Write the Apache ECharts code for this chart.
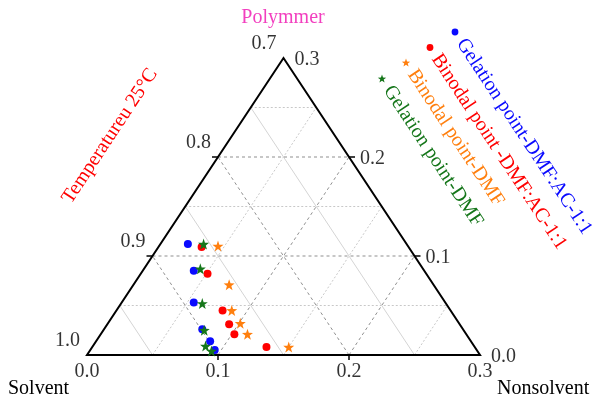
<!DOCTYPE html>
<html>
<head>
<meta charset="utf-8">
<script src="https://cdn.jsdelivr.net/npm/echarts@6/dist/echarts.min.js"></script>
<style>
  html, body { margin: 0; background: #fff; }
  #chart { width: 592px; height: 401px; }
</style>
</head>
<body>
<div id="chart"></div>
<script>
// edge tick values (zoomed ternary: solvent 0.7-1.0, nonsolvent 0-0.3, polymer 0-0.3)
const solventTicks = [1.0, 0.9, 0.8, 0.7];
const nonsolventTicks = [0.0, 0.1, 0.2, 0.3];
const polymerTicks = [0.0, 0.1, 0.2, 0.3];
const majorLines = [0.1, 0.2];
const minorLines = [0.05, 0.15, 0.25];

// nonsolvent (N) and polymer (P) fractions, solvent = 1 - N - P
const gelAcN = [0.021, 0.039, 0.055, 0.075, 0.087, 0.095];
const gelAcP = [0.112, 0.085, 0.053, 0.026, 0.014, 0.005];
const binAcN = [0.033, 0.051, 0.081, 0.093, 0.102, 0.133];
const binAcP = [0.109, 0.082, 0.045, 0.031, 0.021, 0.008];
const binDmfN = [0.045, 0.073, 0.088, 0.101, 0.112, 0.150];
const binDmfP = [0.110, 0.071, 0.045, 0.032, 0.021, 0.008];
const gelDmfN = [0.033, 0.043, 0.062, 0.077, 0.086, 0.093];
const gelDmfP = [0.112, 0.087, 0.052, 0.025, 0.009, 0.004];

const names = [
  "Gelation point-DMF:AC-1:1",
  "Binodal point -DMF:AC-1:1",
  "Binodal point-DMF",
  "Gelation point-DMF",
];
const colors = ["#0a0aff", "#ff0000", "#ff7f0e", "#15761a"];

const FONT = '"Liberation Serif", "Times New Roman", serif';
const STAR = "path://M0,-10L2.35,-3.24L9.51,-3.09L3.8,1.24L5.88,8.09L0,4L-5.88,8.09L-3.8,1.24L-9.51,-3.09L-2.35,-3.24Z";

// ternary (N, P) -> cartesian (x, y) in the grid's value axes
function toXY(n, p) {
  return [n + p / 2, p];
}
function pts(ns, ps) {
  return ns.map((n, i) => toXY(n, ps[i]));
}

function segs(vals, kind) {
  return vals.map((v) => {
    let a, b;
    if (kind === "p") { a = toXY(0, v); b = toXY(0.3 - v, v); }
    else if (kind === "n") { a = toXY(v, 0); b = toXY(v, 0.3 - v); }
    else { a = toXY(v, 0); b = toXY(0, v); }
    return [a[0], a[1], b[0], b[1]];
  });
}

function segSeries(data, style) {
  return {
    type: "custom",
    silent: true,
    data: data,
    encode: { x: [0, 2], y: [1, 3] },
    renderItem: function (params, api) {
      const a = api.coord([api.value(0), api.value(1)]);
      const b = api.coord([api.value(2), api.value(3)]);
      return {
        type: "line",
        shape: { x1: a[0], y1: a[1], x2: b[0], y2: b[1] },
        style: style,
      };
    },
  };
}

const majorStyle = { stroke: "#8f8f8f", lineWidth: 1, lineDash: [3, 3] };
const minorDot = { stroke: "#c8c8c8", lineWidth: 1, lineDash: [2, 2] };
const minorSolid = { stroke: "#d4d4d4", lineWidth: 1 };

// ticks: start point + pixel direction
const tickData = [];
solventTicks.slice(1, 3).forEach((s) => {
  const q = toXY(0, 1 - s);
  tickData.push([q[0], q[1], -6, 0]);
});
polymerTicks.slice(1, 3).forEach((p) => {
  const q = toXY(0.3 - p, p);
  tickData.push([q[0], q[1], 6, 0]);
});
nonsolventTicks.slice(1, 3).forEach((n) => {
  const q = toXY(n, 0);
  tickData.push([q[0], q[1], 0, 5]);
});

function labelSeries(data, pos, dist, offset) {
  return {
    type: "scatter",
    silent: true,
    symbolSize: 0,
    data: data,
    label: {
      show: true,
      position: pos,
      distance: dist,
      offset: offset,
      formatter: (p) => p.value[2].toFixed(1),
      fontFamily: FONT,
      fontSize: 20,
      color: "#000",
    },
  };
}

const leftLabels = solventTicks.map((s) => toXY(0, 1 - s).concat([s]));
const rightLabels = polymerTicks.map((p) => toXY(0.3 - p, p).concat([p]));
const bottomLabels = nonsolventTicks.map((n) => toXY(n, 0).concat([n]));

function starPoints(cx, cy, R, r) {
  const out = [];
  for (let i = 0; i < 10; i++) {
    const a = -Math.PI / 2 + (i * Math.PI) / 5;
    const rad = i % 2 === 0 ? R : r;
    out.push([cx + rad * Math.cos(a), cy + rad * Math.sin(a)]);
  }
  return out;
}

// rotated legend along the right edge
const ang = Math.atan2(297, 196.5);
const dir = [Math.cos(ang), Math.sin(ang)];
const legendPos = [[455, 32], [430, 47.5], [406, 63], [382, 79]];
const legendGraphic = [];
legendPos.forEach((m, i) => {
  if (i < 2) {
    legendGraphic.push({ type: "circle", shape: { cx: m[0], cy: m[1], r: 3.4 }, style: { fill: colors[i] } });
  } else {
    legendGraphic.push({ type: "polygon", shape: { points: starPoints(m[0], m[1], 4.4, 1.8) }, style: { fill: colors[i] } });
  }
  legendGraphic.push({
    type: "text",
    x: m[0] + 10 * dir[0],
    y: m[1] + 10 * dir[1],
    rotation: -ang,
    style: { text: names[i], fill: colors[i], font: "20px " + FONT, align: "left", verticalAlign: "middle" },
  });
});

const chart = echarts.init(document.getElementById("chart"));
chart.setOption({
  animation: false,
  grid: { left: 87, top: 58, width: 393, height: 297 },
  xAxis: { type: "value", min: 0, max: 0.3, show: false },
  yAxis: { type: "value", min: 0, max: 0.3, show: false },
  graphic: [
    { type: "text", x: 283, y: 18, style: { text: "Polymmer", fill: "#f23fbf", font: "20px " + FONT, align: "center", verticalAlign: "middle" } },
    { type: "text", x: 8, y: 389, style: { text: "Solvent", fill: "#000", font: "20px " + FONT, align: "left", verticalAlign: "middle" } },
    { type: "text", x: 497, y: 389, style: { text: "Nonsolvent", fill: "#000", font: "20px " + FONT, align: "left", verticalAlign: "middle" } },
    { type: "text", x: 110, y: 136, rotation: ang, style: { text: "Temperatureu 25°C", fill: "#ff0000", font: "20px " + FONT, align: "center", verticalAlign: "middle" } },
  ].concat(legendGraphic),
  series: [
    segSeries(segs(minorLines, "p"), minorDot),
    segSeries(segs(minorLines, "n"), minorDot),
    segSeries(segs(minorLines, "s"), minorSolid),
    segSeries(segs(majorLines, "p"), majorStyle),
    segSeries(segs(majorLines, "n"), majorStyle),
    segSeries(segs(majorLines, "s"), majorStyle),
    {
      type: "custom",
      silent: true,
      data: [toXY(0, 0).concat(toXY(0.3, 0), toXY(0, 0.3))],
      renderItem: function (params, api) {
        const p = [0, 2, 4].map((k) => api.coord([api.value(k), api.value(k + 1)]));
        return { type: "polygon", shape: { points: p }, style: { fill: "none", stroke: "#000", lineWidth: 2 } };
      },
    },
    {
      type: "custom",
      silent: true,
      data: tickData,
      renderItem: function (params, api) {
        const a = api.coord([api.value(0), api.value(1)]);
        return {
          type: "line",
          shape: { x1: a[0], y1: a[1], x2: a[0] + api.value(2), y2: a[1] + api.value(3) },
          style: { stroke: "#000", lineWidth: 1.5 },
        };
      },
    },
    labelSeries(leftLabels, "left", 7, [0, -14]),
    labelSeries(rightLabels, "right", 11, [0, 2]),
    labelSeries(bottomLabels, "bottom", 7, [0, 0]),
    { name: names[1], type: "scatter", symbol: "circle", symbolSize: 8, itemStyle: { color: colors[1], opacity: 1 }, data: pts(binAcN, binAcP) },
    { name: names[2], type: "scatter", symbol: STAR, symbolSize: 11, itemStyle: { color: colors[2], opacity: 1 }, data: pts(binDmfN, binDmfP) },
    { name: names[0], type: "scatter", symbol: "circle", symbolSize: 8, itemStyle: { color: colors[0], opacity: 1 }, data: pts(gelAcN, gelAcP) },
    { name: names[3], type: "scatter", symbol: STAR, symbolSize: 11, itemStyle: { color: colors[3], opacity: 1 }, data: pts(gelDmfN, gelDmfP) },
  ],
});
</script>
</body>
</html>
